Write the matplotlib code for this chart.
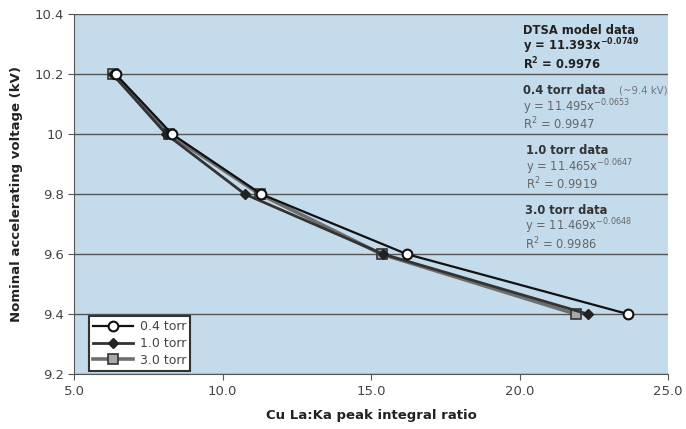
import matplotlib
matplotlib.use("Agg")
import matplotlib.pyplot as plt

# data
volts = [10.2, 10.0, 9.8, 9.6, 9.4]
ratio_04 = [6.4, 8.3, 11.3, 16.2, 23.65]
ratio_10 = [6.3, 8.1, 10.75, 15.4, 22.3]
ratio_30 = [6.3, 8.2, 11.25, 15.35, 21.9]

xticks = [5.0, 10.0, 15.0, 20.0, 25.0]
yticks = [9.2, 9.4, 9.6, 9.8, 10.0, 10.2, 10.4]
ytick_labels = ["9.2", "9.4", "9.6", "9.8", "10", "10.2", "10.4"]

fig = plt.figure(figsize=(6.86, 4.29), dpi=100)
ax = fig.add_axes([0.108, 0.128, 0.866, 0.839])
ax.set_facecolor("#c4dbec")

ax.plot(ratio_04, volts, color="#111111", lw=1.6, marker="o", ms=7,
        mfc="white", mec="#111111", mew=1.5, label="0.4 torr", zorder=5)
ax.plot(ratio_10, volts, color="#333333", lw=2.0, marker="D", ms=5,
        mfc="#222222", mec="#222222", label="1.0 torr", zorder=4)
ax.plot(ratio_30, volts, color="#6e6e6e", lw=2.6, marker="s", ms=6.5,
        mfc="#a8a8a8", mec="#333333", mew=1.2, label="3.0 torr", zorder=3)

ax.set_xlim(5, 25)
ax.set_ylim(9.2, 10.4)
ax.set_xticks(xticks)
ax.set_xticklabels([f"{t:.1f}" for t in xticks])
ax.set_yticks(yticks)
ax.set_yticklabels(ytick_labels)
ax.yaxis.grid(True, color="#555555", lw=1.0)
ax.set_axisbelow(True)
for s in ["top", "right"]:
    ax.spines[s].set_visible(False)
ax.spines["left"].set_color("#555555")
ax.spines["bottom"].set_color("#555555")
ax.tick_params(colors="#555555", labelcolor="#444444", labelsize=9.5, length=4)

ax.set_xlabel("Cu La:Ka peak integral ratio", fontsize=9.5, fontweight="bold",
              color="#222222", labelpad=8)
ax.set_ylabel("Nominal accelerating voltage (kV)", fontsize=9.5, fontweight="bold",
              color="#222222", labelpad=8)

leg = ax.legend(loc="lower left", bbox_to_anchor=(0.025, 0.008), fontsize=9,
                frameon=True, fancybox=False, edgecolor="#333333",
                handlelength=3.2, borderpad=0.35, labelspacing=0.3,
                borderaxespad=0, handletextpad=0.5, framealpha=1)
leg.get_frame().set_linewidth(1.5)
for t in leg.get_texts():
    t.set_color("#444444")

lx = 0.756
ax.text(lx, 0.955, "DTSA model data", transform=ax.transAxes, ha="left",
        va="center", fontsize=8.3, fontweight="bold", color="#222222")
ax.text(lx, 0.91, r"y = 11.393x$^{\mathbf{-0.0749}}$", transform=ax.transAxes,
        ha="left", va="center", fontsize=8.3, fontweight="bold", color="#222222")
ax.text(lx, 0.862, r"R$^\mathbf{2}$ = 0.9976", transform=ax.transAxes,
        ha="left", va="center", fontsize=8.3, fontweight="bold", color="#222222")

blocks = [
    ("0.4 torr data", "11.495", "-0.0653", "0.9947", 0.787, 0.756),
    ("1.0 torr data", "11.465", "-0.0647", "0.9919", 0.62, 0.761),
    ("3.0 torr data", "11.469", "-0.0648", "0.9986", 0.455, 0.759),
]
for title, a, b, r2, yy, xx in blocks:
    ax.text(xx, yy, title, transform=ax.transAxes, ha="left", va="center",
            fontsize=8.3, fontweight="bold", color="#333333")
    ax.text(xx, yy - 0.045, "y = " + a + "x$^{" + b + "}$", transform=ax.transAxes,
            ha="left", va="center", fontsize=8.3, color="#666666")
    ax.text(xx, yy - 0.093, "R$^2$ = " + r2, transform=ax.transAxes,
            ha="left", va="center", fontsize=8.3, color="#666666")
ax.text(0.999, 0.787, "(~9.4 kV)", transform=ax.transAxes, ha="right",
        va="center", fontsize=7.3, color="#777777")

fig.savefig("out.png", dpi=100)
